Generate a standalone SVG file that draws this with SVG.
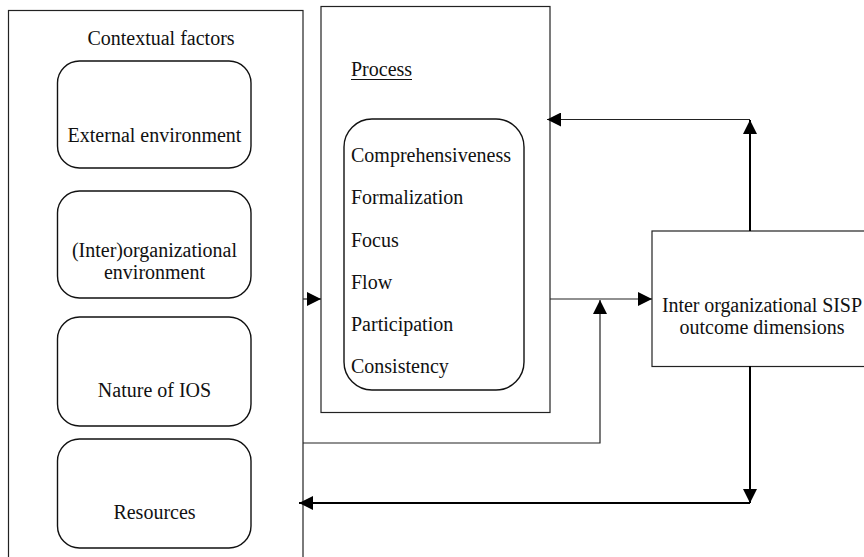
<svg xmlns="http://www.w3.org/2000/svg" width="864" height="557" viewBox="0 0 864 557">
  <style>
    text { font-family: "Liberation Serif", "Times New Roman", serif; font-size: 20px; fill: #111; }
    .mid { text-anchor: middle; }
    .box { fill: none; stroke: #222; stroke-width: 1.2; }
    .rbox { fill: none; stroke: #111; stroke-width: 1.4; }
    .wire { fill: none; stroke: #222; stroke-width: 1.2; }
    .thick { fill: none; stroke: #000; stroke-width: 2; }
  </style>
  <defs>
    <marker id="arrow" markerUnits="userSpaceOnUse" markerWidth="14" markerHeight="14" viewBox="0 0 14 14" refX="14" refY="7" orient="auto">
      <path d="M0,0 L14,7 L0,14 z" fill="#000"/>
    </marker>
  </defs>

  <rect width="864" height="557" fill="#fff"/>

  <!-- contextual factors column -->
  <g id="contextual-factors">
    <rect class="box" x="8.5" y="10.5" width="294.5" height="560"/>
    <text class="mid" x="161" y="45">Contextual factors</text>
  </g>
  <g id="external-environment">
    <rect class="rbox" x="57.5" y="61" width="193.5" height="107" rx="22" ry="22"/>
    <text class="mid" x="154.5" y="142">External environment</text>
  </g>
  <g id="interorganizational-environment">
    <rect class="rbox" x="57.5" y="191" width="193.5" height="107" rx="22" ry="22"/>
    <text class="mid" x="154.5" y="257">(Inter)organizational</text>
    <text class="mid" x="154.5" y="279">environment</text>
  </g>
  <g id="nature-of-ios">
    <rect class="rbox" x="57.5" y="317" width="193.5" height="109" rx="22" ry="22"/>
    <text class="mid" x="154.5" y="397">Nature of IOS</text>
  </g>
  <g id="resources">
    <rect class="rbox" x="57.5" y="439" width="193.5" height="109" rx="22" ry="22"/>
    <text class="mid" x="154.5" y="519">Resources</text>
  </g>

  <!-- planning process -->
  <g id="process">
    <rect class="box" x="321" y="6.5" width="229" height="406"/>
    <text x="351" y="76">Process</text>
    <line x1="351" y1="79.5" x2="412" y2="79.5" stroke="#111" stroke-width="1"/>
  </g>
  <g id="process-dimensions">
    <rect class="rbox" x="344" y="119" width="180" height="271" rx="28" ry="28"/>
    <text x="351" y="162">Comprehensiveness</text>
    <text x="351" y="204">Formalization</text>
    <text x="351" y="246.5">Focus</text>
    <text x="351" y="289">Flow</text>
    <text x="351" y="331">Participation</text>
    <text x="351" y="373">Consistency</text>
  </g>

  <!-- outcomes -->
  <g id="outcome">
    <rect class="box" x="652" y="231" width="220" height="135.5"/>
    <text class="mid" x="762" y="312" textLength="200" lengthAdjust="spacing">Inter organizational SISP</text>
    <text class="mid" x="762" y="334">outcome dimensions</text>
  </g>

  <!-- connectors -->
  <g id="connectors">
    <path class="wire" d="M303,299 H321" marker-end="url(#arrow)"/>
    <path class="wire" d="M550,299 H652" marker-end="url(#arrow)"/>
    <path class="wire" d="M303,443 H600 V300" marker-end="url(#arrow)"/>
    <path class="thick" d="M750,231 V120" marker-end="url(#arrow)"/>
    <path class="wire" d="M750,119.5 H547" marker-end="url(#arrow)"/>
    <path class="thick" d="M750,366 V503" marker-end="url(#arrow)"/>
    <path class="thick" d="M750,503 H299" marker-end="url(#arrow)"/>
  </g>
</svg>
